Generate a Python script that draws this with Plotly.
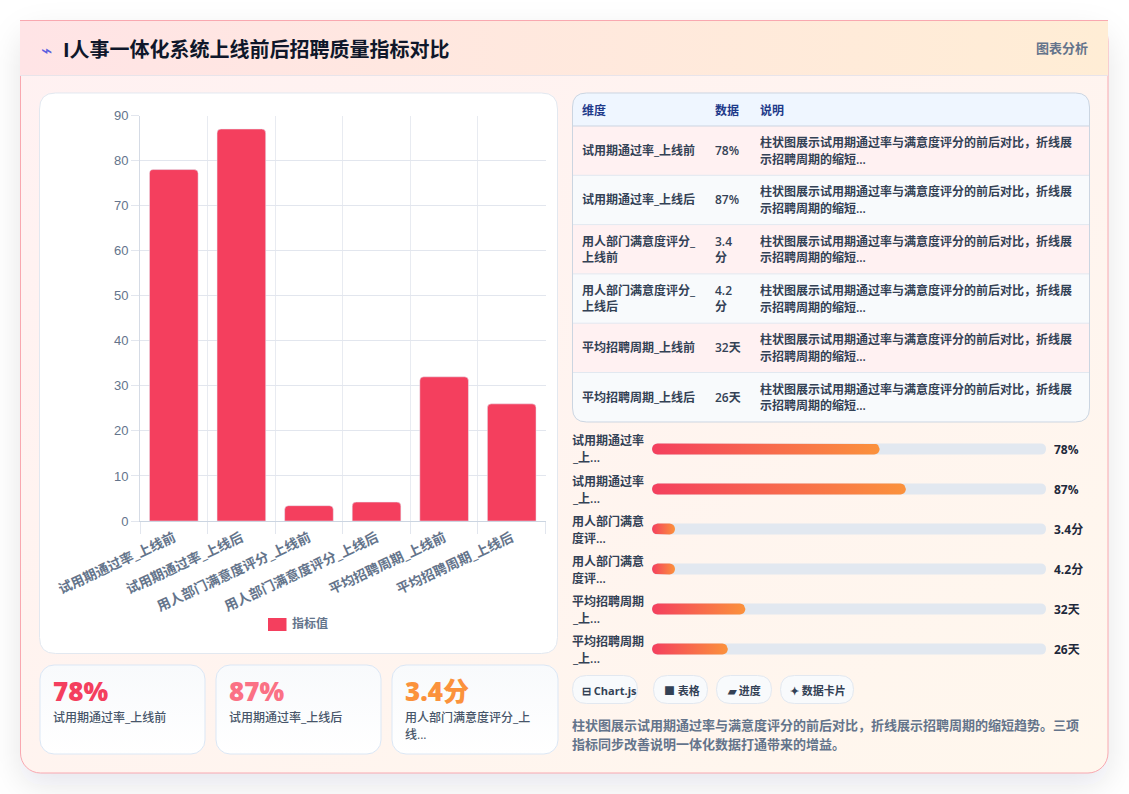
import base64
import plotly.graph_objects as go

W, H = 1129, 794

# ---- data ----
categories = ["试用期通过率_上线前", "试用期通过率_上线后", "用人部门满意度评分_上线前",
              "用人部门满意度评分_上线后", "平均招聘周期_上线前", "平均招聘周期_上线后"]
metric_values = [78, 87, 3.4, 4.2, 32, 26]
value_labels = ["78%", "87%", "3.4分", "4.2分", "32天", "26天"]
table_dims = [["试用期通过率_上线前"], ["试用期通过率_上线后"], ["用人部门满意度评分_", "上线前"],
              ["用人部门满意度评分_", "上线后"], ["平均招聘周期_上线前"], ["平均招聘周期_上线后"]]
table_vals = [["78%"], ["87%"], ["3.4", "分"], ["4.2", "分"], ["32天"], ["26天"]]
table_note = ["柱状图展示试用期通过率与满意度评分的前后对比，折线展", "示招聘周期的缩短..."]
table_head = ["维度", "数据", "说明"]
progress_labels = [["试用期通过率", "_上..."], ["试用期通过率", "_上..."], ["用人部门满意", "度评..."],
                   ["用人部门满意", "度评..."], ["平均招聘周期", "_上..."], ["平均招聘周期", "_上..."]]
progress_scale_max = 135
progress_min_fill = 7.9
kpi_values = ["78%", "87%", "3.4分"]
kpi_colors = ["#f43f5e", "#fb7185", "#fb923c"]
kpi_labels = [["试用期通过率_上线前"], ["试用期通过率_上线后"], ["用人部门满意度评分_上", "线..."]]
chips = ["⊟ Chart.js", "■ 表格", "▰ 进度", "✦ 数据卡片"]
summary = ["柱状图展示试用期通过率与满意度评分的前后对比，折线展示招聘周期的缩短趋势。三项",
           "指标同步改善说明一体化数据打通带来的增益。"]
title = "I人事一体化系统上线前后招聘质量指标对比"

FONT = '"Open Sans", "Noto Sans CJK SC", sans-serif'
TICK_FONT = '"Liberation Sans", "Noto Sans CJK SC", sans-serif'


def fx(x):
    return x / W


def fy(y):
    return 1 - y / H


def rr_path(x0, y0, x1, y1, r):
    p = [("M", x0 + r, y0), ("L", x1 - r, y0), ("Q", x1, y0, x1, y0 + r), ("L", x1, y1 - r),
         ("Q", x1, y1, x1 - r, y1), ("L", x0 + r, y1), ("Q", x0, y1, x0, y1 - r),
         ("L", x0, y0 + r), ("Q", x0, y0, x0 + r, y0)]
    out = []
    for s in p:
        nums = s[1:]
        coords = []
        for i in range(0, len(nums), 2):
            coords.append(f"{fx(nums[i]):.6f},{fy(nums[i + 1]):.6f}")
        out.append(s[0] + " ".join(coords))
    return " ".join(out) + " Z"


def rounded(x0, y0, x1, y1, r, fill, line=None, width=1):
    return dict(type="path", xref="paper", yref="paper", path=rr_path(x0, y0, x1, y1, r),
                fillcolor=fill, line=dict(color=line or "rgba(0,0,0,0)", width=width if line else 0),
                layer="below")


def rect(x0, y0, x1, y1, fill):
    return dict(type="rect", xref="paper", yref="paper", x0=fx(x0), x1=fx(x1), y0=fy(y0), y1=fy(y1),
                fillcolor=fill, line=dict(width=0), layer="below")


def hline(x0, x1, y, color):
    return dict(type="line", xref="paper", yref="paper", x0=fx(x0), x1=fx(x1), y0=fy(y), y1=fy(y),
                line=dict(color=color, width=1), layer="below")


annotations = []


def label(x, y, text, size, color, weight=400, anchor="left"):
    annotations.append(dict(xref="paper", yref="paper", x=fx(x), y=fy(y), text=text, showarrow=False,
                            xanchor=anchor, yanchor="middle", align=anchor,
                            font=dict(family=FONT, size=size, color=color, weight=weight),
                            borderpad=0, borderwidth=0))


# ---- page backdrop: shadow, gradients of the frame and header, stat cards ----
kpi_boxes = [(40, 205), (216, 381), (392, 558)]
kpi_svg = "".join(
    f'<rect x="{a}" y="665" width="{b - a}" height="89" rx="14" fill="url(#k)" stroke="#dbe7f5"/>'
    for a, b in kpi_boxes)
svg = f'''<svg xmlns="http://www.w3.org/2000/svg" width="{W}" height="{H}" viewBox="0 0 {W} {H}">
<defs>
<linearGradient id="c" x1="0" y1="0" x2="1" y2="1"><stop offset="0" stop-color="#fff1f2"/><stop offset="1" stop-color="#fff7ed"/></linearGradient>
<linearGradient id="h" x1="0" y1="0" x2="1" y2="0"><stop offset="0" stop-color="#ffe4e6"/><stop offset="1" stop-color="#ffedd5"/></linearGradient>
<linearGradient id="k" x1="0" y1="0" x2="0" y2="1"><stop offset="0" stop-color="#f8fafc"/><stop offset="1" stop-color="#ffffff"/></linearGradient>
<filter id="s" x="-10%" y="-10%" width="120%" height="125%"><feGaussianBlur stdDeviation="16"/></filter>
</defs>
<rect width="{W}" height="{H}" fill="#ffffff"/>
<rect x="20" y="33" width="1088" height="752" rx="20" fill="#0f172a" fill-opacity="0.10" filter="url(#s)"/>
<rect x="20.5" y="20.5" width="1087.5" height="752.5" rx="20" fill="url(#c)" stroke="#f9a8b0"/>
<rect x="20" y="21" width="1088" height="54" fill="url(#h)"/>
<rect x="20" y="20" width="1088" height="1" fill="#f9a8b0"/>
<rect x="20" y="75" width="1088" height="1" fill="#e8e4ea"/>
{kpi_svg}
</svg>'''
backdrop = "data:image/svg+xml;base64," + base64.b64encode(svg.encode()).decode()

shapes = []

# chart panel
shapes.append(rounded(39.5, 93, 557.5, 653.5, 16, "#ffffff", "#e2e8f0"))

# legend swatch
shapes.append(rect(268, 618, 286.5, 631, "#f43f5e"))

# table panel
row_tops = [126, 175.3, 224.6, 273.9, 323.2, 372.5, 422]
shapes.append(rounded(572.5, 93, 1089.5, 422, 14, "#f8fafc"))
shapes.append(dict(type="path", xref="paper", yref="paper", layer="below", line=dict(width=0),
                   fillcolor="#eff6ff",
                   path=f"M{fx(572.5):.6f},{fy(126):.6f} L{fx(572.5):.6f},{fy(107):.6f} "
                        f"Q{fx(572.5):.6f},{fy(93):.6f} {fx(586.5):.6f},{fy(93):.6f} "
                        f"L{fx(1075.5):.6f},{fy(93):.6f} Q{fx(1089.5):.6f},{fy(93):.6f} "
                        f"{fx(1089.5):.6f},{fy(107):.6f} L{fx(1089.5):.6f},{fy(126):.6f} Z"))
for i in range(6):
    if i % 2 == 0:
        shapes.append(rect(573, row_tops[i], 1089, row_tops[i + 1], "#fff1f2"))
shapes.append(hline(573, 1089, 126, "#cbd5e1"))
for y in row_tops[1:-1]:
    shapes.append(hline(573, 1089, y, "#e2e8f0"))
shapes.append(rounded(572.5, 93, 1089.5, 422, 14, "rgba(0,0,0,0)", "#cbd5e1"))

# table text
for x, t in zip((582, 715, 760), table_head):
    label(x, 110, t, 12, "#1e3a8a", 700)
for i in range(6):
    mid = (row_tops[i] + row_tops[i + 1]) / 2
    for col_x, lines in ((582, table_dims[i]), (715, table_vals[i])):
        start = mid - (len(lines) - 1) * 8
        for k, t in enumerate(lines):
            label(col_x, start + k * 16, t, 12, "#334155", 600)
    for k, t in enumerate(table_note):
        label(760, mid - 8 + k * 16.5, t, 12, "#334155", 600)

# header text
label(41, 50, "⌁", 19, "#5b5fe0", 400)
label(63, 50, title, 20, "#0f172a", 700)
label(1088, 48, "图表分析", 13, "#64748b", 600, "right")

# legend text
label(292, 623.5, "指标值", 12, "#64748b", 600)

# stat cards
for (a, b), v, c, lines in zip(kpi_boxes, kpi_values, kpi_colors, kpi_labels):
    label(a + 13, 691, v, 26, c, 800)
    for k, t in enumerate(lines):
        label(a + 13, 717 + k * 17, t, 12, "#475569", 500)

# progress rows
row_y = [449 + 40 * i for i in range(6)]
track_x0, track_x1 = 652, 1046
for y, lines, t in zip(row_y, progress_labels, value_labels):
    shapes.append(rounded(track_x0, y - 5.5, track_x1, y + 5.5, 5.5, "#e2e8f0"))
    label(572, y - 8, lines[0], 12, "#334155", 600)
    label(572, y + 9, lines[1], 12, "#334155", 600)
    label(1054, y + 0.5, t, 12, "#1e293b", 700)

# chips
chip_boxes = [(572, 638), (653, 708), (716, 772), (780, 854)]
chip_text_x = [582, 664, 727, 790]
for (a, b), t, tx in zip(chip_boxes, chips, chip_text_x):
    shapes.append(rounded(a + 0.5, 675.5, b - 0.5, 703.5, 14, "#f8fafc", "#e2e8f0"))
    label(tx, 690, t, 11, "#334155", 700)

# summary text
label(572, 725, summary[0], 13, "#64748b", 600)
label(572, 744, summary[1], 13, "#64748b", 600)

fig = go.Figure()

# main bar chart
fig.add_trace(go.Bar(x=categories, y=metric_values, name="指标值", marker=dict(color="#f43f5e"),
                     showlegend=False, xaxis="x", yaxis="y", hoverinfo="x+y"))

# gradient progress fills, each a rounded bar traced on the 0..scale axis
rx = 5.5 / (track_x1 - track_x0) * progress_scale_max
ry = 5.5 / 40
arc = [(1, 0), (0.92, 0.38), (0.71, 0.71), (0.38, 0.92), (0, 1)]
for i, v in enumerate(metric_values):
    end = max(v, progress_min_fill)
    xs = [rx - rx * c for c, s in arc] + [end - rx + rx * c for c, s in arc[::-1]] \
        + [end - rx + rx * c for c, s in arc] + [rx - rx * c for c, s in arc[::-1]]
    ys = [i - ry * s for c, s in arc] + [i - ry * s for c, s in arc[::-1]] \
        + [i + ry * s for c, s in arc] + [i + ry * s for c, s in arc[::-1]]
    fig.add_trace(go.Scatter(x=xs, y=ys, mode="lines", line=dict(width=0), fill="toself",
                             fillgradient=dict(type="horizontal",
                                               colorscale=[[0, "#f43f5e"], [1, "#fb923c"]]),
                             showlegend=False, hoverinfo="skip", xaxis="x2", yaxis="y2"))

fig.update_layout(
    width=W, height=H, margin=dict(l=0, r=0, t=0, b=0), autosize=False,
    paper_bgcolor="#ffffff", plot_bgcolor="rgba(0,0,0,0)", showlegend=False,
    font=dict(family=FONT), bargap=0.28, barcornerradius=4,
    images=[dict(source=backdrop, xref="paper", yref="paper", x=0, y=1, sizex=1, sizey=1,
                 xanchor="left", yanchor="top", sizing="stretch", layer="below")],
    shapes=shapes, annotations=annotations,
    xaxis=dict(domain=[fx(140), fx(545.5)], anchor="y", type="category", tickson="boundaries",
               tickangle=-25, ticks="outside", ticklen=12, tickcolor="#e2e6ee", tickwidth=1,
               showgrid=True, gridcolor="#e8ebf1", gridwidth=1, showline=True, linecolor="#cbd5e1",
               tickfont=dict(family=FONT, size=13.5, color="#64748b", weight=600),
               ticklabelstandoff=3, fixedrange=True, automargin=False),
    yaxis=dict(domain=[fy(521), fy(115.5)], anchor="x", range=[0, 90], dtick=10, ticks="outside",
               ticklen=8, tickcolor="#e2e6ee", tickwidth=1, gridcolor="#e2e6ee", gridwidth=1,
               showline=True, linecolor="#d5dbe5", zeroline=False,
               tickfont=dict(family=TICK_FONT, size=13, color="#64748b"),
               fixedrange=True, automargin=False),
    xaxis2=dict(domain=[fx(track_x0), fx(track_x1)], anchor="y2", range=[0, progress_scale_max],
                visible=False, fixedrange=True),
    yaxis2=dict(domain=[fy(669), fy(429)], anchor="x2", range=[5.5, -0.5], visible=False,
                fixedrange=True),
)

fig.write_html("out.html", config=dict(displayModeBar=False))
